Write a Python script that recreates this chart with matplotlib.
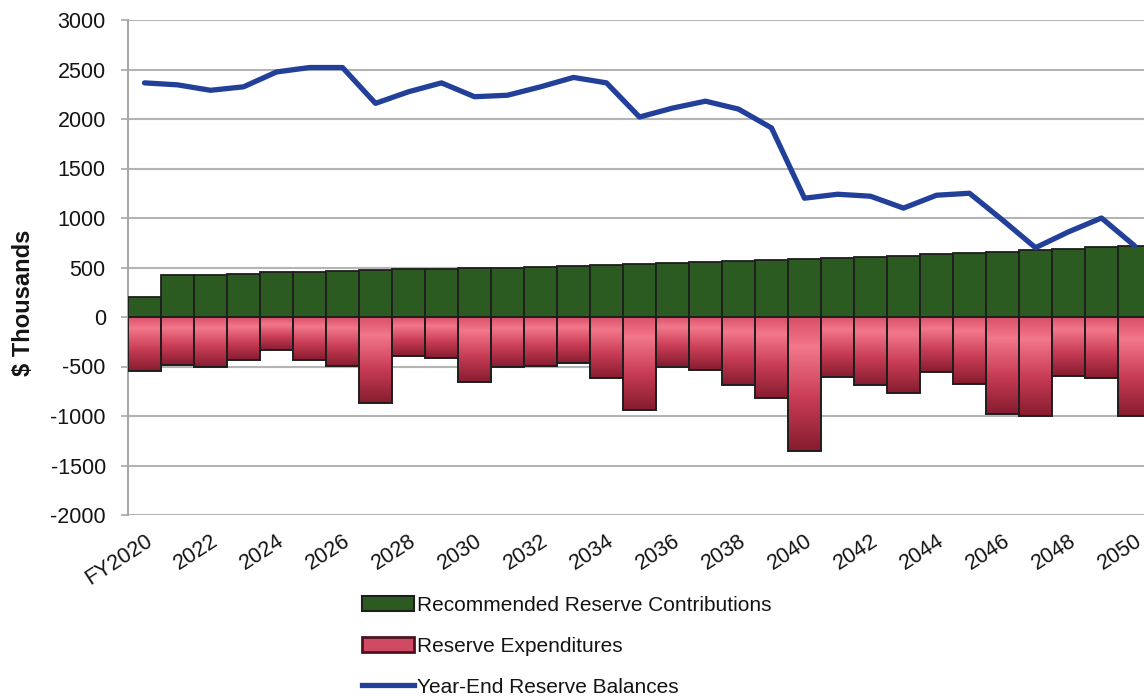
import numpy as np
import matplotlib
matplotlib.use("Agg")
import matplotlib.pyplot as plt
from matplotlib.colors import LinearSegmentedColormap
from matplotlib.patches import Patch
from matplotlib.lines import Line2D
from matplotlib.transforms import ScaledTranslation

plt.rcParams['font.family'] = ['Liberation Sans', 'DejaVu Sans']
plt.rcParams['axes.unicode_minus'] = False

# ---- data ($ thousands) ----
years = list(range(2020, 2051))
contributions = [200, 420, 425, 430, 450, 455, 460, 470, 480, 485,
                 495, 500, 510, 515, 525, 535, 545, 555, 565, 575,
                 585, 600, 610, 620, 635, 645, 660, 675, 690, 705,
                 715]
expenditures = [-550, -480, -505, -430, -330, -430, -490, -870, -390, -410,
                -660, -505, -490, -460, -620, -940, -500, -540, -690, -820,
                -1350, -610, -690, -770, -560, -680, -980, -1000, -600, -620,
                -1000]
balances = [2365, 2345, 2290, 2325, 2475, 2520, 2520, 2158, 2275, 2365,
            2225, 2240, 2325, 2420, 2365, 2020, 2110, 2180, 2100, 1910,
            1200, 1240, 1220, 1100, 1230, 1250, 980, 700, 860, 1000,
            720]
tick_years = list(range(2020, 2051, 2))
tick_labels = ['FY2020'] + [str(y) for y in tick_years[1:]]
series_labels = ['Recommended Reserve Contributions',
                 'Reserve Expenditures',
                 'Year-End Reserve Balances']

GREEN = '#2c5b22'
BLUE = '#22409a'
EDGE = '#1e1e1e'
TEXT = '#141414'

W, H = 1144, 698
fig = plt.figure(figsize=(W / 100, H / 100), dpi=100)
ax = fig.add_axes([128 / W, 1 - 515 / H, (1151 - 128) / W, (515 - 20) / H])

# contributions: solid green columns
ax.bar(years, contributions, width=1.0, color=GREEN, edgecolor=EDGE,
       linewidth=1.3, zorder=3)

# expenditures: outlined columns filled with a vertical pink-to-crimson gradient
red_cmap = LinearSegmentedColormap.from_list(
    'expend', [(0.0, '#d94f68'), (0.22, '#f3778a'), (0.6, '#c93d56'),
               (1.0, '#861c2f')])
grad = np.linspace(0, 1, 256).reshape(-1, 1)
exp_bars = ax.bar(years, expenditures, width=1.0, facecolor='none',
                  edgecolor=EDGE, linewidth=1.4, zorder=4)
for patch in exp_bars:
    x0, y0 = patch.get_xy()
    w, h = patch.get_width(), patch.get_height()
    im = ax.imshow(grad, cmap=red_cmap, aspect='auto', origin='upper',
                   extent=(x0, x0 + w, y0 + h, y0), zorder=3,
                   interpolation='bilinear')
    im.set_clip_path(patch)

# year-end balance line
ax.plot(years, balances, color=BLUE, lw=3.8, zorder=6,
        solid_joinstyle='round', solid_capstyle='round')

# axes styling
ax.set_xlim(2019.5, 2050.5)
ax.set_ylim(-2000, 3000)
ax.set_yticks(range(-2000, 3001, 500))
ax.set_xticks(tick_years)
ax.set_xticklabels(tick_labels, rotation=33, ha='right', va='top',
                   rotation_mode='anchor')
shift = ScaledTranslation(-6 / 100, 0, fig.dpi_scale_trans)
for lab in ax.get_xticklabels():
    lab.set_transform(lab.get_transform() + shift)
ax.yaxis.grid(True, color='#b4b4b4', lw=1.5)
ax.set_axisbelow(True)
for side in ('top', 'right', 'bottom'):
    ax.spines[side].set_visible(False)
ax.spines['left'].set_color('#a8a8a8')
ax.spines['left'].set_linewidth(1.5)
ax.tick_params(axis='y', direction='out', length=5, width=1.2,
               color='#a8a8a8', pad=11, labelsize=15.5, labelcolor=TEXT)
ax.tick_params(axis='x', length=0, pad=11, labelsize=15.5, labelcolor=TEXT)

fig.text(24 / W, 1 - 303 / H, '$ Thousands', rotation=90, fontsize=17,
         fontweight='bold', ha='center', va='center', color=TEXT)

handles = [
    Patch(facecolor=GREEN, edgecolor=EDGE, linewidth=1.5),
    Patch(facecolor='#cf4a62', edgecolor='#4a1520', linewidth=2.0),
    Line2D([0], [0], color=BLUE, lw=3.8),
]
fig.legend(handles, series_labels, loc='upper left',
           bbox_to_anchor=(362 / W, 1 - 596 / H), frameon=False,
           fontsize=15, handlelength=2.5, handleheight=0.7,
           handletextpad=0.15, labelspacing=1.05, borderaxespad=0,
           borderpad=0, labelcolor=TEXT)

fig.savefig('out.png', dpi=100, facecolor='white')
